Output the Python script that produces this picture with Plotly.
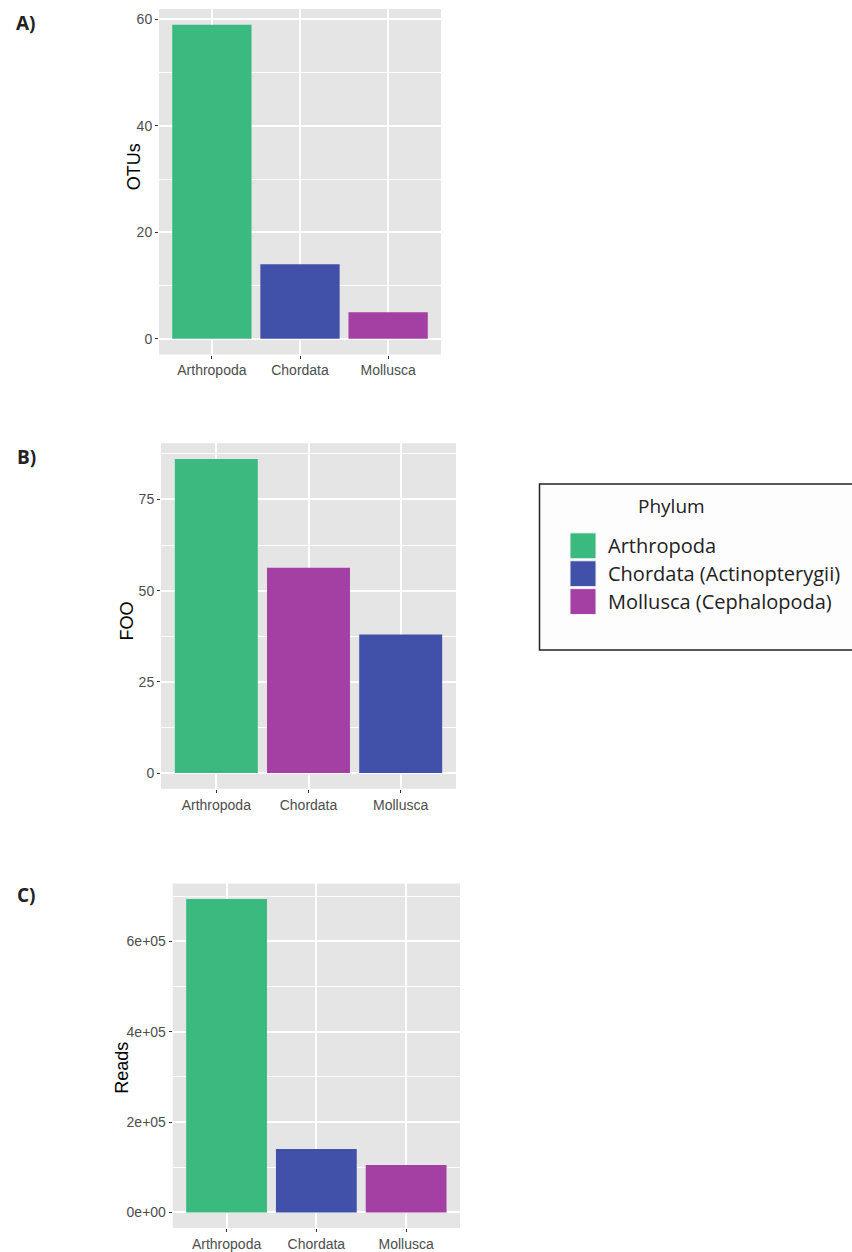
import plotly.graph_objects as go

W, H = 852, 1252

# ---- data ----
categories = ["Arthropoda", "Chordata", "Mollusca"]
otus = [59, 14, 5]
foo = [86.1, 56.3, 38.0]
reads = [693600, 140500, 105200]

green, blue, purple = "#3ABA7E", "#4150A8", "#A43FA3"
colors_a = [green, blue, purple]
colors_b = [green, purple, blue]
colors_c = [green, blue, purple]

otu_ticks = [0, 20, 40, 60]
otu_ticklabels = ["0", "20", "40", "60"]
foo_ticks = [0, 25, 50, 75]
foo_ticklabels = ["0", "25", "50", "75"]
reads_ticks = [0, 200000, 400000, 600000]
reads_ticklabels = ["0e+00", "2e+05", "4e+05", "6e+05"]

legend_title = "Phylum"
legend_labels = ["Arthropoda", "Chordata (Actinopterygii)", "Mollusca (Cephalopoda)"]
legend_colors = [green, blue, purple]
panel_labels = ["A)", "B)", "C)"]
axis_titles = ["OTUs", "FOO", "Reads"]


# ---- layout helpers (window pixel -> paper) ----
def px_x(v):
    return v / W


def px_y(v):
    return 1 - v / H


panels = [
    dict(box=(159, 441, 9, 356), vals=otus, cols=colors_a, ticks=otu_ticks,
         tl=otu_ticklabels, minor=10, title_pos=(134, 168)),
    dict(box=(161, 456, 445, 792), vals=foo, cols=colors_b, ticks=foo_ticks,
         tl=foo_ticklabels, minor=12.5, title_pos=(127, 623)),
    dict(box=(172.7, 460, 887, 1233), vals=reads, cols=colors_c, ticks=reads_ticks,
         tl=reads_ticklabels, minor=100000, title_pos=(122, 1072)),
]

fig = go.Figure()
annotations = []
shapes = []

panel_bg = "#E5E5E5"
tick_font = dict(family="Liberation Sans, Arial, sans-serif", size=14, color="#4D4D4D")

for i, p in enumerate(panels):
    n = i + 1
    xa = "x" if n == 1 else f"x{n}"
    ya = "y" if n == 1 else f"y{n}"
    fig.add_trace(go.Bar(
        x=categories, y=p["vals"], marker=dict(color=p["cols"], line=dict(width=0)),
        width=0.9, xaxis=xa, yaxis=ya, showlegend=False, hoverinfo="x+y"))
    x0, x1, yt, yb = p["box"]
    vmax = max(p["vals"])
    xkey = "xaxis" if n == 1 else f"xaxis{n}"
    ykey = "yaxis" if n == 1 else f"yaxis{n}"
    fig.update_layout({
        xkey: dict(domain=[px_x(x0), px_x(x1)], anchor=ya, type="category",
                   range=[-0.6, 2.6], showgrid=True, gridcolor="white", gridwidth=1.6,
                   ticks="outside", ticklen=3, tickcolor="#333333", tickwidth=1,
                   tickfont=tick_font, showline=False, zeroline=False, fixedrange=True),
        ykey: dict(domain=[px_y(yb), px_y(yt)], anchor=xa,
                   range=[-0.05 * vmax, 1.05 * vmax], tickmode="array",
                   tickvals=p["ticks"], ticktext=p["tl"], showgrid=True,
                   gridcolor="white", gridwidth=1.6, ticks="outside", ticklen=3,
                   tickcolor="#333333", tickwidth=1, tickfont=tick_font,
                   zeroline=False, showline=False, fixedrange=True,
                   minor=dict(dtick=p["minor"], tick0=0, showgrid=True,
                              gridcolor="white", gridwidth=0.8, ticks="")),
    })
    # panel background
    shapes.append(dict(type="rect", xref="paper", yref="paper",
                       x0=px_x(x0), x1=px_x(x1), y0=px_y(yb), y1=px_y(yt),
                       fillcolor=panel_bg, line=dict(width=0), layer="below"))
    tx, ty = p["title_pos"]
    annotations.append(dict(text=axis_titles[i], xref="paper", yref="paper",
                            x=px_x(tx), y=px_y(ty), showarrow=False, textangle=-90,
                            xanchor="center", yanchor="middle",
                            font=dict(family="Liberation Sans, Arial, sans-serif",
                                      size=18, color="black")))

# panel letters
for lab, (lx, ly) in zip(panel_labels, [(26, 23), (26, 459), (26, 899)]):
    annotations.append(dict(text=f"<b>{lab}</b>", xref="paper", yref="paper",
                            x=px_x(lx), y=px_y(ly), showarrow=False,
                            xanchor="center", yanchor="middle",
                            font=dict(family="Open Sans, sans-serif", size=19, color="#222222")))

# legend box (right edge runs off the page as in the reference)
shapes.append(dict(type="rect", xref="paper", yref="paper",
                   x0=px_x(539.5), x1=px_x(870), y0=px_y(652.5), y1=px_y(486),
                   fillcolor="#FDFDFD", line=dict(color="#222222", width=1.5)))
annotations.append(dict(text=legend_title, xref="paper", yref="paper",
                        x=px_x(636), y=px_y(508), showarrow=False,
                        xanchor="left", yanchor="middle",
                        font=dict(family="Open Sans, sans-serif", size=19, color="#222222")))
for k, (lab, col) in enumerate(zip(legend_labels, legend_colors)):
    cy = 548 + 28 * k
    shapes.append(dict(type="rect", xref="paper", yref="paper",
                       x0=px_x(570), x1=px_x(596), y0=px_y(cy + 13), y1=px_y(cy - 13),
                       fillcolor=col, line=dict(color="#F2F2F2", width=1)))
    annotations.append(dict(text=lab, xref="paper", yref="paper",
                            x=px_x(606), y=px_y(cy), showarrow=False,
                            xanchor="left", yanchor="middle",
                            font=dict(family="Open Sans, sans-serif", size=20, color="#222222")))

fig.update_layout(width=W, height=H, margin=dict(l=0, r=0, t=0, b=0),
                  paper_bgcolor="white", plot_bgcolor="rgba(0,0,0,0)",
                  shapes=shapes, annotations=annotations, bargap=0.1,
                  showlegend=False)

fig.write_html("out.html",
               config={"displayModeBar": False},
               post_script="document.body.style.margin='0px';"
                           "document.body.style.overflow='hidden';")
